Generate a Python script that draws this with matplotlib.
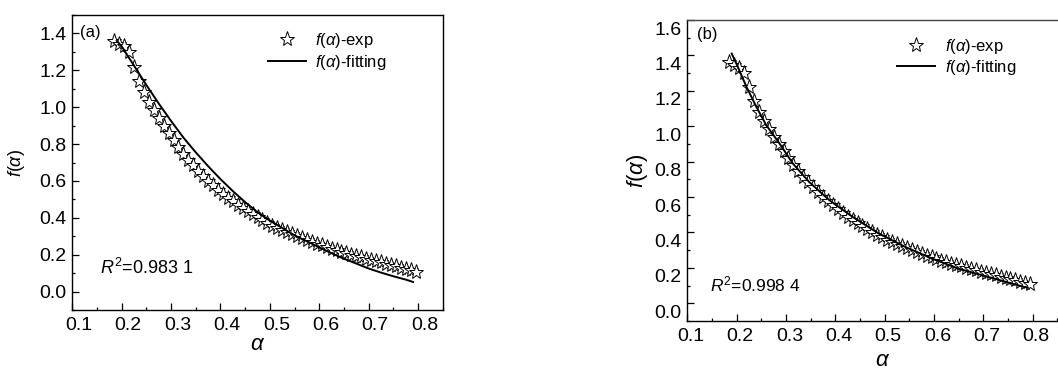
import matplotlib
matplotlib.use("Agg")
import matplotlib.pyplot as plt
from matplotlib.ticker import MultipleLocator
from matplotlib.transforms import ScaledTranslation

plt.rcParams['font.family'] = ['Liberation Sans', 'DejaVu Sans']
plt.rcParams['mathtext.fontset'] = 'custom'
plt.rcParams['mathtext.rm'] = 'Liberation Sans'
plt.rcParams['mathtext.it'] = 'Liberation Sans:italic'

# experimental f(alpha) (same in both panels)
alpha_exp = [0.185, 0.195, 0.205, 0.215, 0.225, 0.235, 0.245, 0.255, 0.265, 0.275,
             0.285, 0.295, 0.305, 0.315, 0.325, 0.335, 0.345, 0.355, 0.365, 0.375,
             0.385, 0.395, 0.405, 0.415, 0.425, 0.435, 0.445, 0.455, 0.465, 0.475,
             0.485, 0.495, 0.505, 0.515, 0.525, 0.535, 0.545, 0.555, 0.565, 0.575,
             0.585, 0.595, 0.605, 0.615, 0.625, 0.635, 0.645, 0.655, 0.665, 0.675,
             0.685, 0.695, 0.705, 0.715, 0.725, 0.735, 0.745, 0.755, 0.765, 0.775,
             0.785, 0.795]
f_exp = [1.36, 1.345, 1.33, 1.30, 1.22, 1.14, 1.08, 1.03, 0.985, 0.94,
         0.90, 0.86, 0.82, 0.782, 0.748, 0.715, 0.685, 0.655, 0.628, 0.602,
         0.578, 0.553, 0.53, 0.51, 0.49, 0.47, 0.452, 0.436, 0.42, 0.403,
         0.388, 0.372, 0.358, 0.346, 0.334, 0.322, 0.31, 0.30, 0.289, 0.278,
         0.268, 0.259, 0.25, 0.241, 0.232, 0.224, 0.216, 0.208, 0.20, 0.193,
         0.186, 0.179, 0.172, 0.165, 0.158, 0.151, 0.144, 0.137, 0.13, 0.123,
         0.116, 0.108]

# fitting curve, panel (a)
alpha_fit_a = [0.19, 0.20, 0.225, 0.25, 0.275, 0.30, 0.325, 0.35, 0.375, 0.40,
               0.425, 0.45, 0.475, 0.50, 0.525, 0.55, 0.575, 0.60, 0.625, 0.65,
               0.675, 0.70, 0.725, 0.75, 0.775, 0.79]
f_fit_a = [1.36, 1.33, 1.225, 1.12, 1.02, 0.925, 0.835, 0.755, 0.68, 0.61,
           0.545, 0.485, 0.43, 0.385, 0.345, 0.305, 0.273, 0.240, 0.208, 0.178,
           0.152, 0.125, 0.103, 0.083, 0.065, 0.052]

# fitting curve, panel (b)
alpha_fit_b = [0.19, 0.20, 0.22, 0.24, 0.26, 0.287, 0.314, 0.347, 0.388, 0.435,
               0.488, 0.542, 0.596, 0.649, 0.71, 0.783, 0.79]
f_fit_b = [1.41, 1.35, 1.222, 1.109, 1.006, 0.902, 0.789, 0.685, 0.582, 0.488,
           0.394, 0.318, 0.253, 0.196, 0.149, 0.092, 0.088]

label_exp = r'$f$($\alpha$)-exp'
label_fit = r'$f$($\alpha$)-fitting'
r2_texts = [r'$R^2$=0.983 1', r'$R^2$=0.998 4']
panel_tags = ['(a)', '(b)']

W, H = 1058, 372
fig = plt.figure(figsize=(W / 100, H / 100), dpi=100)

ax_a = fig.add_axes([72.3 / W, (H - 310) / H, 370.4 / W, 295 / H])
ax_b = fig.add_axes([687.3 / W, (H - 321) / H, 389.8 / W, 301 / H])


def style(ax, xmax, ylim, xoff_px, yoff_px):
    ax.set_xlim(0.1, xmax)
    ax.set_ylim(*ylim)
    ax.xaxis.set_major_locator(MultipleLocator(0.1))
    ax.xaxis.set_minor_locator(MultipleLocator(0.05))
    ax.yaxis.set_major_locator(MultipleLocator(0.2))
    ax.yaxis.set_minor_locator(MultipleLocator(0.1))
    ax.tick_params(which='both', direction='in', top=False, right=False,
                   labelsize=14, width=0.9, colors='black')
    ax.tick_params(which='major', length=5)
    ax.tick_params(which='minor', length=2.5)
    ax.tick_params(axis='x', pad=5)
    ax.tick_params(axis='y', pad=4)
    ax.xaxis.set_major_formatter(plt.FuncFormatter(lambda v, p: f'{v:.1f}'))
    ax.yaxis.set_major_formatter(plt.FuncFormatter(lambda v, p: f'{abs(v):.1f}' if abs(v) < 1e-9 else f'{v:.1f}'))
    for s in ax.spines.values():
        s.set_linewidth(1.0)
        s.set_color('black')
    fig.canvas.draw()
    for lab in ax.get_xticklabels():
        lab.set_transform(lab.get_transform() + ScaledTranslation(xoff_px / 100, 0, fig.dpi_scale_trans))
    for lab in ax.get_yticklabels():
        lab.set_transform(lab.get_transform() + ScaledTranslation(0, -yoff_px / 100, fig.dpi_scale_trans))


for ax, af, ff in [(ax_a, alpha_fit_a, f_fit_a), (ax_b, alpha_fit_b, f_fit_b)]:
    ax.plot(alpha_exp, f_exp, linestyle='none', marker='*', ms=11, mfc='white',
            mec='black', mew=0.7, label=label_exp)
    ax.plot(af, ff, color='black', lw=1.4, label=label_fit)

style(ax_a, 0.85, (-0.1, 1.5), 6.5, 0)
style(ax_b, 0.89, (-0.1, 1.6), 3.5, 8)
ax_b.spines['top'].set_color('#444444')

ax_a.set_xlabel(r'$\alpha$', fontsize=16, labelpad=0)
ax_a.set_ylabel(r'$f$($\alpha$)', fontsize=13, labelpad=9)
ax_b.set_xlabel(r'$\alpha$', fontsize=16, labelpad=4)
ax_b.set_ylabel(r'$f$($\alpha$)', fontsize=16, labelpad=3)

ax_a.legend(frameon=False, loc='upper left', bbox_to_anchor=(0.528, 0.945),
            fontsize=12, handlelength=2.3, handletextpad=0.55, labelspacing=0.15,
            borderpad=0, borderaxespad=0)
ax_b.legend(frameon=False, loc='upper left', bbox_to_anchor=(0.538, 0.945),
            fontsize=12, handlelength=2.3, handletextpad=0.55, labelspacing=0.15,
            borderpad=0, borderaxespad=0)

ax_a.text(0.021, 0.939, panel_tags[0], transform=ax_a.transAxes, fontsize=12,
          ha='left', va='center')
ax_b.text(0.025, 0.952, panel_tags[1], transform=ax_b.transAxes, fontsize=12,
          ha='left', va='center')
ax_a.text(0.075, 0.142, r2_texts[0], transform=ax_a.transAxes, fontsize=13,
          ha='left', va='center')
ax_b.text(0.058, 0.12, r2_texts[1], transform=ax_b.transAxes, fontsize=12.5,
          ha='left', va='center')

fig.savefig('out.png', dpi=100)
